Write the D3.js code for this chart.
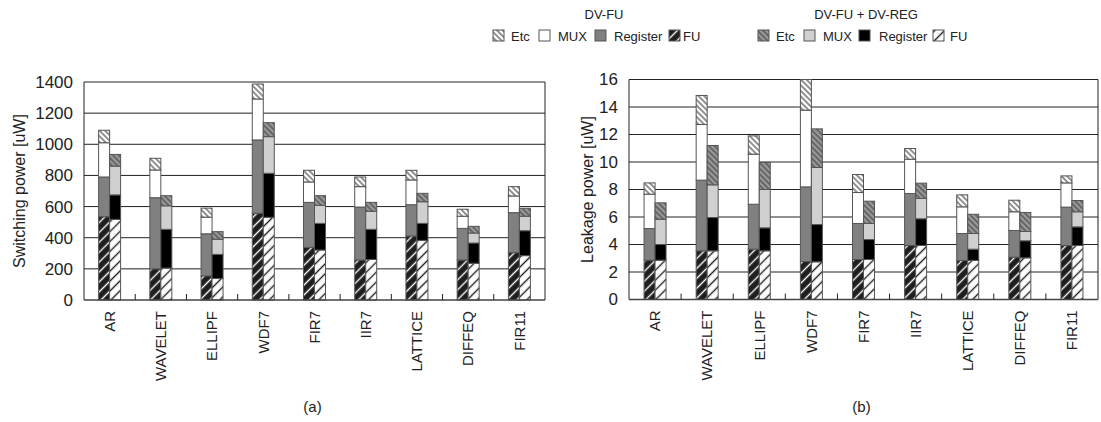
<!DOCTYPE html>
<html>
<head>
<meta charset="utf-8">
<script src="https://cdn.jsdelivr.net/npm/d3@7"></script>
<style>
  body { margin: 0; background: #fff; }
  svg { font-family: "Liberation Sans", Arial, sans-serif; }
</style>
</head>
<body>
<svg id="chart" width="1101" height="422"></svg>
<script>
// Kategorien
const categories = ["AR", "WAVELET", "ELLIPF", "WDF7", "FIR7", "IIR7", "LATTICE", "DIFFEQ", "FIR11"];
const parts = ["FU", "Register", "MUX", "Etc"];

// (a) Switching power, DV-FU
const swFuA  = [535, 200, 155, 557, 338, 257, 411, 257, 304];
const swRegA = [255, 457, 270, 471, 289, 340, 201, 203, 257];
const swMuxA = [220, 178, 107, 263, 131, 131, 159,  78, 107];
const swEtcA = [ 80,  75,  58,  96,  75,  62,  62,  45,  60];
// (a) Switching power, DV-FU + DV-REG
const swFuB  = [518, 205, 138, 531, 321, 260, 383, 236, 285];
const swRegB = [157, 249, 155, 283, 171, 194, 109, 130, 160];
const swMuxB = [185, 151,  97, 235, 116, 116, 139,  64,  93];
const swEtcB = [ 75,  65,  49,  90,  62,  57,  54,  43,  51];

// (b) Leakage power, DV-FU
const lkFuA  = [2.86, 3.54, 3.66, 2.76, 2.91, 3.93, 2.84, 3.08, 3.93];
const lkRegA = [2.30, 5.14, 3.27, 5.43, 2.62, 3.78, 1.96, 1.94, 2.79];
const lkMuxA = [2.50, 4.05, 3.64, 5.58, 2.25, 2.49, 1.94, 1.36, 1.76];
const lkEtcA = [0.82, 2.11, 1.33, 2.23, 1.31, 0.78, 0.87, 0.84, 0.51];
// (b) Leakage power, DV-FU + DV-REG
const lkFuB  = [2.86, 3.54, 3.54, 2.74, 2.91, 3.93, 2.84, 3.03, 3.93];
const lkRegB = [1.14, 2.42, 1.67, 2.71, 1.45, 1.94, 0.82, 1.24, 1.35];
const lkMuxB = [1.84, 2.38, 2.79, 4.15, 1.17, 1.48, 1.14, 0.68, 1.10];
const lkEtcB = [1.19, 2.86, 1.96, 2.81, 1.62, 1.11, 1.40, 1.38, 0.82];

const svg = d3.select("#chart");

// Muster (Schraffuren)
const defs = svg.append("defs");
function hatch(id, bg, line, angle, gap, w) {
    const p = defs.append("pattern")
        .attr("id", id)
        .attr("patternUnits", "userSpaceOnUse")
        .attr("width", gap)
        .attr("height", gap)
        .attr("patternTransform", `rotate(${angle})`);
    p.append("rect").attr("width", gap).attr("height", gap).attr("fill", bg);
    p.append("line")
        .attr("x1", gap / 2).attr("y1", 0)
        .attr("x2", gap / 2).attr("y2", gap)
        .attr("stroke", line)
        .attr("stroke-width", w);
}
hatch("etcA", "#fff", "#222", -45, 4, 1);
hatch("fuA", "#1e1e1e", "#fff", 45, 7, 1.4);
hatch("etcB", "#9a9a9a", "#333", -45, 4, 1);
hatch("fuB", "#fff", "#1e1e1e", 45, 7, 1.4);

// Füllungen je Schema: FU, Register, MUX, Etc
const fillA = ["url(#fuA)", "#808080", "#fff", "url(#etcA)"];
const fillB = ["url(#fuB)", "#000", "#d0d0d0", "url(#etcB)"];

function drawPanel(cfg) {
    const g = svg.append("g");
    const x = d3.scaleBand().domain(categories).range([cfg.x0, cfg.x1]);
    const y = d3.scaleLinear().domain([0, cfg.max]).range([cfg.y0, cfg.y1]);
    const bw = 11;

    // Gitterlinien
    const ticks = d3.range(0, cfg.max + cfg.step / 2, cfg.step);
    g.selectAll("line.grid").data(ticks.slice(1)).join("line")
        .attr("x1", cfg.x0).attr("x2", cfg.x1)
        .attr("y1", d => y(d)).attr("y2", d => y(d))
        .attr("stroke", "#222").attr("stroke-width", 1);

    g.selectAll("text.tick").data(ticks).join("text")
        .attr("x", cfg.x0 - 11)
        .attr("y", d => y(d))
        .attr("dy", "0.35em")
        .attr("text-anchor", "end")
        .attr("font-size", "17px")
        .attr("fill", "#222")
        .text(d => d);

    // Balken
    const schemes = [
        { vals: cfg.a, fill: fillA, dx: -bw },
        { vals: cfg.b, fill: fillB, dx: 0 }
    ];
    schemes.forEach(s => {
        categories.forEach((c, i) => {
            let base = 0;
            parts.forEach((p, k) => {
                const v = s.vals[k][i];
                g.append("rect")
                    .attr("x", x(c) + x.bandwidth() / 2 + s.dx)
                    .attr("y", y(base + v))
                    .attr("width", bw)
                    .attr("height", y(base) - y(base + v))
                    .attr("fill", s.fill[k])
                    .attr("stroke", "#555")
                    .attr("stroke-width", 1);
                base += v;
            });
        });
    });

    // Achsen und Rahmen
    g.append("line")
        .attr("x1", cfg.x0).attr("x2", cfg.x0)
        .attr("y1", cfg.y0).attr("y2", cfg.y1)
        .attr("stroke", "#222");
    g.append("line")
        .attr("x1", cfg.x1).attr("x2", cfg.x1)
        .attr("y1", cfg.y0).attr("y2", cfg.y1)
        .attr("stroke", "#222");
    g.append("line")
        .attr("x1", cfg.x0).attr("x2", cfg.x1)
        .attr("y1", cfg.y0).attr("y2", cfg.y0)
        .attr("stroke", "#444").attr("stroke-width", 1.5);

    // kleine Trennstriche zwischen Kategorien
    g.selectAll("line.sep").data(categories.slice(1)).join("line")
        .attr("x1", d => x(d)).attr("x2", d => x(d))
        .attr("y1", cfg.y0).attr("y2", cfg.y0 - 6)
        .attr("stroke", "#222");

    // Kategorienamen
    g.selectAll("text.cat").data(categories).join("text")
        .attr("transform", d => `translate(${x(d) + x.bandwidth() / 2},${cfg.y0 + 11}) rotate(-90)`)
        .attr("dy", "0.35em")
        .attr("text-anchor", "end")
        .attr("font-size", "15px")
        .attr("fill", "#222")
        .text(d => d);

    // Achsentitel
    g.append("text")
        .attr("transform", `translate(${cfg.titleX},${(cfg.y0 + cfg.y1) / 2}) rotate(-90)`)
        .attr("text-anchor", "middle")
        .attr("font-size", "16px")
        .attr("fill", "#222")
        .text(cfg.title);

    g.append("text")
        .attr("x", (cfg.x0 + cfg.x1) / 2 - 2)
        .attr("y", 412)
        .attr("text-anchor", "middle")
        .attr("font-size", "15px")
        .attr("fill", "#222")
        .text(cfg.label);
}

drawPanel({
    x0: 84, x1: 545, y0: 300, y1: 82, max: 1400, step: 200,
    a: [swFuA, swRegA, swMuxA, swEtcA],
    b: [swFuB, swRegB, swMuxB, swEtcB],
    title: "Switching power [uW]", titleX: 25, label: "(a)"
});
drawPanel({
    x0: 629, x1: 1098, y0: 299.5, y1: 79.5, max: 16, step: 2,
    a: [lkFuA, lkRegA, lkMuxA, lkEtcA],
    b: [lkFuB, lkRegB, lkMuxB, lkEtcB],
    title: "Leakage power [uW]", titleX: 593, label: "(b)"
});

// Legende
const legendA = [
    { name: "Etc", fill: fillA[3], sx: 493, tx: 511 },
    { name: "MUX", fill: fillA[2], sx: 539, tx: 558 },
    { name: "Register", fill: fillA[1], sx: 595, tx: 614 },
    { name: "FU", fill: fillA[0], sx: 669, tx: 683 }
];
const legendB = [
    { name: "Etc", fill: fillB[3], sx: 758, tx: 776 },
    { name: "MUX", fill: fillB[2], sx: 804, tx: 823 },
    { name: "Register", fill: fillB[1], sx: 859, tx: 879 },
    { name: "FU", fill: fillB[0], sx: 933, tx: 950 }
];
const leg = svg.append("g").attr("font-size", "13px").attr("fill", "#222");
leg.append("text").attr("x", 604).attr("y", 19).attr("text-anchor", "middle").text("DV-FU");
leg.append("text").attr("x", 866).attr("y", 19).attr("text-anchor", "middle").text("DV-FU + DV-REG");
legendA.concat(legendB).forEach(d => {
    leg.append("rect")
        .attr("x", d.sx).attr("y", 30)
        .attr("width", 11).attr("height", 11)
        .attr("fill", d.fill)
        .attr("stroke", "#555");
    leg.append("text")
        .attr("x", d.tx).attr("y", 40.5)
        .text(d.name);
});
</script>
</body>
</html>
